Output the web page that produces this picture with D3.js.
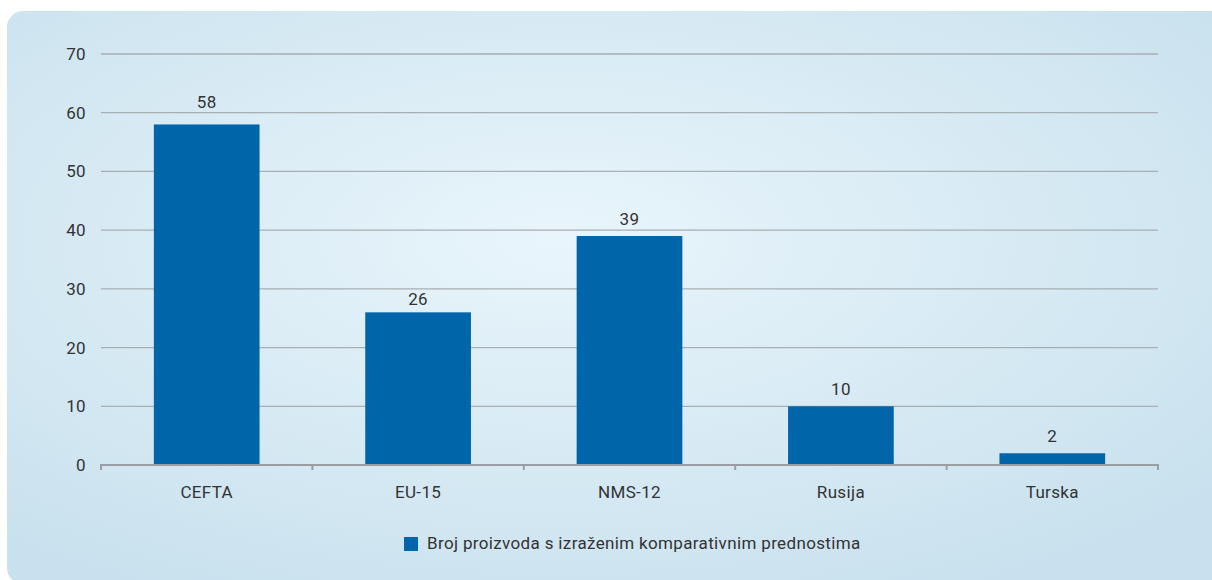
<!DOCTYPE html>
<html><head><meta charset="utf-8">
<script src="https://cdn.jsdelivr.net/npm/d3@7"></script>
<style>html,body{margin:0;padding:0;background:#fff;}svg{display:block;}</style>
</head><body>
<script>
const categories = ["CEFTA", "EU-15", "NMS-12", "Rusija", "Turska"];
const values = [58, 26, 39, 10, 2];
const yTicks = [0, 10, 20, 30, 40, 50, 60, 70];
const seriesName = "Broj proizvoda s izraženim komparativnim prednostima";

const W = 1212, H = 580;
const svg = d3.select("body").append("svg").attr("width", W).attr("height", H);
const defs = svg.append("defs");
const grad = defs.append("radialGradient").attr("id", "bg")
  .attr("cx", "45%").attr("cy", "40%").attr("r", "70%");
grad.append("stop").attr("offset", "0%").attr("stop-color", "#e9f5fb");
grad.append("stop").attr("offset", "100%").attr("stop-color", "#c8e1ee");

svg.append("rect").attr("x", 7).attr("y", 11).attr("width", W - 7 + 20).attr("height", H - 11 + 4)
  .attr("rx", 16).attr("fill", "url(#bg)");

const font = "Roboto, 'DejaVu Sans', sans-serif";
const fs = 17;
const ls = "0.35px";
const txt = "#333";
const x = d3.scaleBand().domain(categories).range([101, 1158]).paddingInner(0.5).paddingOuter(0.25);
const y = d3.scaleLinear().domain([0, 70]).range([465, 54]);

// gridlines
svg.append("g").selectAll("line").data(yTicks.filter(d => d > 0)).join("line")
  .attr("x1", 101).attr("x2", 1158).attr("y1", d => y(d)).attr("y2", d => y(d))
  .attr("stroke", "#a9aeb2").attr("stroke-width", 1.3);

// y axis labels
const yAxis = svg.append("g").attr("transform", "translate(90,0)")
  .call(d3.axisLeft(y).tickValues(yTicks).tickSize(0).tickPadding(0));
yAxis.select(".domain").remove();
yAxis.selectAll("text").attr("font-family", font).attr("font-size", fs).attr("fill", txt)
  .attr("letter-spacing", ls).attr("x", -4);

// bars
svg.append("g").selectAll("rect").data(values).join("rect")
  .attr("x", (d, i) => x(categories[i])).attr("width", x.bandwidth())
  .attr("y", d => y(d)).attr("height", d => y(0) - y(d)).attr("fill", "#0066a9");

// value labels: placed above bar, nudged off any gridline they would cross
function labelY(v) {
  const top = y(v);
  let b = top - 11;
  const g = yTicks.map(t => y(t)).find(gy => gy >= b - 13 && gy <= b + 3);
  if (g !== undefined) {
    b = (g + 16 <= top - 4) ? g + 16 : g - 5;
  }
  return b;
}
svg.append("g").selectAll("text").data(values).join("text")
  .attr("x", (d, i) => x(categories[i]) + x.bandwidth() / 2).attr("y", d => labelY(d))
  .attr("text-anchor", "middle").attr("font-family", font).attr("font-size", fs).attr("fill", txt)
  .attr("letter-spacing", ls).text(d => d);

// x axis
const step = (1158 - 101) / categories.length;
const xa = svg.append("g");
xa.append("line").attr("x1", 100).attr("x2", 1159).attr("y1", 465).attr("y2", 465)
  .attr("stroke", "#9a9ea2").attr("stroke-width", 2);
xa.selectAll("line.tk").data(d3.range(categories.length + 1)).join("line").attr("class", "tk")
  .attr("x1", i => 101 + i * step).attr("x2", i => 101 + i * step)
  .attr("y1", 465).attr("y2", 470).attr("stroke", "#9a9ea2").attr("stroke-width", 2);
xa.selectAll("text").data(categories).join("text")
  .attr("x", d => x(d) + x.bandwidth() / 2).attr("y", 498)
  .attr("text-anchor", "middle").attr("font-family", font).attr("font-size", fs).attr("fill", txt)
  .attr("letter-spacing", ls).text(d => d);

// legend
const lg = svg.append("g");
lg.append("rect").attr("x", 404).attr("y", 537).attr("width", 14).attr("height", 14).attr("fill", "#0066a9");
lg.append("text").attr("x", 427).attr("y", 549).attr("font-family", font).attr("font-size", fs)
  .attr("letter-spacing", ls).attr("fill", txt).text(seriesName);
</script>
</body></html>
